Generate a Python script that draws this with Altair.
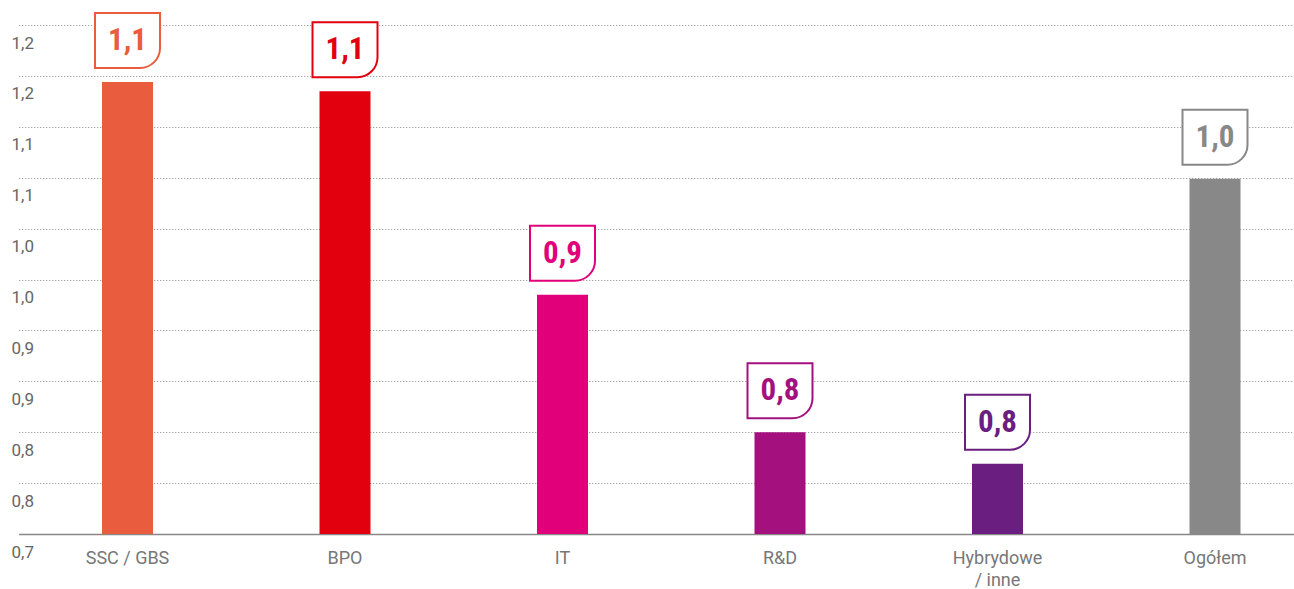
import altair as alt
import pandas as pd

categories = ["SSC / GBS", "BPO", "IT", "R&D", "Hybrydowe\n/ inne", "Ogółem"]
values = [1.144, 1.135, 0.935, 0.800, 0.769, 1.049]
value_labels = ["1,1", "1,1", "0,9", "0,8", "0,8", "1,0"]
colors = ["#E95C3E", "#E2000F", "#E2007A", "#A5107F", "#691E80", "#888888"]

y_ticks = [0.70, 0.75, 0.80, 0.85, 0.90, 0.95, 1.00, 1.05, 1.10, 1.15, 1.20]
y_tick_labels = ["0,7", "0,8", "0,8", "0,9", "0,9", "1,0", "1,0", "1,1", "1,1", "1,2", "1,2"]

df = pd.DataFrame({"category": categories, "value": values, "label": value_labels})

label_array = "[" + ",".join("'" + s + "'" for s in y_tick_labels) + "]"
y_label_expr = label_array + "[round((datum.value - 0.7) * 20)]"

x_enc = alt.X(
    "category:N",
    sort=categories,
    scale=alt.Scale(range=[8.75, 1313.75], paddingInner=0, paddingOuter=0),
    axis=alt.Axis(
        title=None,
        labelAngle=0,
        labelExpr="split(datum.label, '\\n')",
        labelFont="Roboto",
        labelFontSize=18,
        labelColor="#777777",
        labelPadding=15,
        labelLineHeight=22,
        ticks=False,
        tickSize=0,
        domain=True,
        domainColor="#888888",
        domainWidth=1.5,
        grid=False,
    ),
)

y_enc = alt.Y(
    "value:Q",
    scale=alt.Scale(domain=[0.7, 1.2], zero=False, nice=False),
    axis=alt.Axis(
        title=None,
        values=y_ticks,
        labelExpr=y_label_expr,
        labelAlign="left",
        labelBaseline="top",
        labelOffset=10,
        labelPadding=-1,
        labelFont="Roboto",
        labelFontSize=17,
        labelColor="#666666",
        ticks=False,
        tickSize=0,
        domain=False,
        grid=True,
        gridColor="#8a8a8a",
        gridDash=[1, 2],
        gridWidth=1,
    ),
)

color_scale = alt.Scale(domain=categories, range=colors)

base = alt.Chart(df)

bars = base.mark_bar(width=51).encode(
    x=x_enc,
    y=y_enc,
    y2=alt.datum(0.7),
    color=alt.Color("category:N", scale=color_scale, legend=None),
)

boxes = base.mark_rect(
    width=65,
    height=55,
    yOffset=-41.5,
    fill="white",
    strokeWidth=2,
    cornerRadiusBottomRight=20,
).encode(
    x=x_enc,
    y=y_enc,
    stroke=alt.Stroke("category:N", scale=color_scale, legend=None),
)

texts = base.mark_text(
    dy=-41,
    font="Roboto Condensed, Barlow Condensed, sans-serif",
    fontSize=31,
    fontWeight="bold",
    baseline="middle",
    align="center",
).encode(
    x=x_enc,
    y=y_enc,
    text="label:N",
    color=alt.Color("category:N", scale=color_scale, legend=None),
)

chart = (
    alt.layer(bars, boxes, texts)
    .properties(
        width=1284,
        height=509,
        autosize=alt.AutoSizeParams(type="none"),
        padding={"left": 10, "top": 25, "right": 0, "bottom": 55},
        background="white",
    )
    .configure_view(stroke=None)
)

chart.save("out.html", embed_options={"renderer": "svg", "actions": False})
